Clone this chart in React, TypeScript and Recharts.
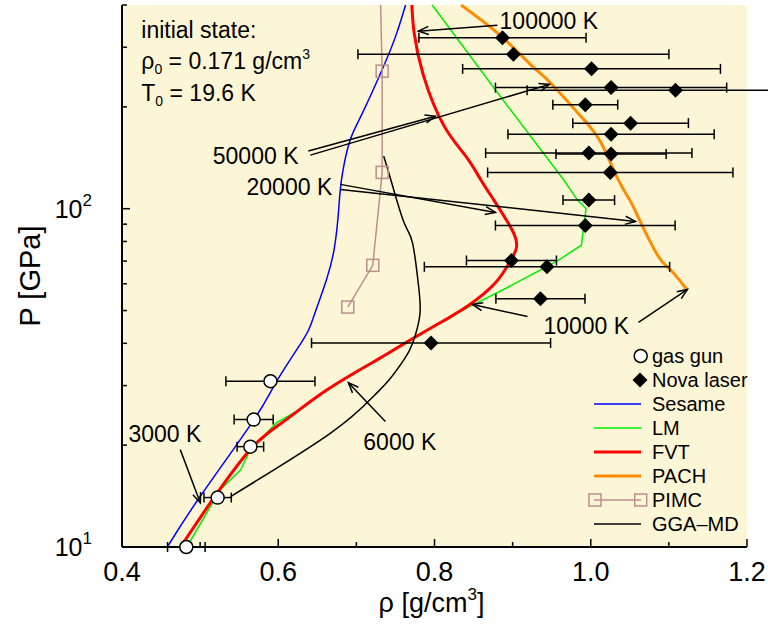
import React from 'react'
import {
  ComposedChart, Line, Scatter, XAxis, YAxis, ErrorBar, ReferenceLine,
  ReferenceDot, CartesianGrid, Legend, Label,
} from 'recharts'

const FONT = '"Liberation Sans", Arial, Helvetica, sans-serif'
const BG = '#fdf6d6'

// axis ticks
const xTicks = [0.4, 0.5, 0.6, 0.7, 0.8, 0.9, 1.0, 1.1, 1.2]
const yTicks = [10, 20, 30, 40, 50, 60, 70, 80, 90, 100, 200, 300, 400]

// model curves, rho [g/cm3] vs P [GPa]
const sesame = [
  { rho: 0.458, P: 10 }, { rho: 0.500, P: 14.1 }, { rho: 0.569, P: 23.8 }, { rho: 0.598, P: 30.9 },
  { rho: 0.632, P: 41 }, { rho: 0.644, P: 47 }, { rho: 0.662, P: 62 }, { rho: 0.672, P: 77 },
  { rho: 0.677, P: 97 }, { rho: 0.681, P: 122 }, { rho: 0.691, P: 157 }, { rho: 0.706, P: 188 },
  { rho: 0.735, P: 264 }, { rho: 0.752, P: 332 }, { rho: 0.763, P: 400 },
]
const lm = [
  { rho: 0.483, P: 10 }, { rho: 0.526, P: 14.8 }, { rho: 0.552, P: 16.9 }, { rho: 0.564, P: 19.4 },
  { rho: 0.598, P: 23.3 }, { rho: 0.624, P: 25.2 }, { rho: 0.663, P: 29.2 }, { rho: 0.727, P: 35.8 },
  { rho: 0.760, P: 40 }, { rho: 0.799, P: 45 }, { rho: 0.846, P: 51.5 }, { rho: 0.884, P: 57 },
  { rho: 0.957, P: 70 }, { rho: 0.988, P: 78 }, { rho: 0.994, P: 100 }, { rho: 0.983, P: 106 },
  { rho: 0.965, P: 122 }, { rho: 0.884, P: 215 }, { rho: 0.797, P: 400 },
]
const fvt = [
  { rho: 0.475, P: 10 }, { rho: 0.513, P: 13.5 }, { rho: 0.564, P: 19.4 }, { rho: 0.607, P: 23.5 },
  { rho: 0.663, P: 29.2 }, { rho: 0.727, P: 35.8 }, { rho: 0.762, P: 40 }, { rho: 0.800, P: 45 },
  { rho: 0.842, P: 51.5 }, { rho: 0.878, P: 60.4 }, { rho: 0.897, P: 70 }, { rho: 0.905, P: 77 },
  { rho: 0.901, P: 85 }, { rho: 0.889, P: 95 }, { rho: 0.876, P: 106 }, { rho: 0.859, P: 122 },
  { rho: 0.840, P: 143 }, { rho: 0.812, P: 176 }, { rho: 0.786, P: 247 }, { rho: 0.774, P: 330 },
  { rho: 0.771, P: 400 },
]
const pach = [
  { rho: 1.123, P: 57.7 }, { rho: 1.102, P: 66 }, { rho: 1.087, P: 72 }, { rho: 1.064, P: 91 },
  { rho: 1.050, P: 106 }, { rho: 1.035, P: 122 }, { rho: 1.013, P: 157 }, { rho: 0.987, P: 188 },
  { rho: 0.948, P: 236 }, { rho: 0.925, P: 264 }, { rho: 0.885, P: 324 }, { rho: 0.834, P: 400 },
]
const pimc = [
  { rho: 0.689, P: 51.2 }, { rho: 0.721, P: 68 }, { rho: 0.733, P: 128 }, { rho: 0.733, P: 255 },
  { rho: 0.731, P: 400 },
]
const ggaMd = [
  { rho: 0.539, P: 14.1 }, { rho: 0.667, P: 21.7 }, { rho: 0.722, P: 27.9 }, { rho: 0.742, P: 31.2 },
  { rho: 0.761, P: 35.8 }, { rho: 0.772, P: 40 }, { rho: 0.781, P: 48 }, { rho: 0.780, P: 58 },
  { rho: 0.772, P: 79 }, { rho: 0.761, P: 91 }, { rho: 0.744, P: 122 }, { rho: 0.735, P: 143 },
]

// experiments, err = half width in rho
const gasGun = [
  { rho: 0.590, P: 30.9, err: 0.057 }, { rho: 0.5685, P: 23.8, err: 0.025 },
  { rho: 0.5643, P: 19.8, err: 0.017 }, { rho: 0.5224, P: 14.0, err: 0.0175 },
  { rho: 0.4823, P: 10.0, err: 0.024 },
]
const nova = [
  { rho: 0.887, P: 320, err: 0.107 }, { rho: 0.901, P: 286, err: 0.199 },
  { rho: 1.001, P: 259, err: 0.165 }, { rho: 1.026, P: 228, err: 0.148 },
  { rho: 1.1085, P: 224, err: 0.19 }, { rho: 0.993, P: 203, err: 0.0415 },
  { rho: 1.051, P: 179, err: 0.074 }, { rho: 1.026, P: 166, err: 0.132 },
  { rho: 0.9975, P: 146, err: 0.132 }, { rho: 1.026, P: 145, err: 0.0705 },
  { rho: 1.025, P: 128, err: 0.157 }, { rho: 0.9975, P: 106, err: 0.033 },
  { rho: 0.993, P: 89.2, err: 0.115 }, { rho: 0.8985, P: 70.3, err: 0.0576 },
  { rho: 0.944, P: 67.3, err: 0.157 }, { rho: 0.9356, P: 54.2, err: 0.057 },
  { rho: 0.7956, P: 40.1, err: 0.153 },
]

// isotherm annotations
const tempLabels = [
  { text: '100000 K', rho: 0.8833, P: 339, anchor: 'start' },
  { text: '50000 K', rho: 0.6259, P: 135.2, anchor: 'end' },
  { text: '20000 K', rho: 0.6691, P: 109.5, anchor: 'end' },
  { text: '10000 K', rho: 0.9394, P: 42.5, anchor: 'start' },
  { text: '6000 K', rho: 0.7089, P: 19.4, anchor: 'start' },
  { text: '3000 K', rho: 0.4082, P: 20.4, anchor: 'start' },
]
const arrows = [
  { x1: 0.8805, y1: 348.6, x2: 0.7794, y2: 334.7 },
  { x1: 0.6385, y1: 148, x2: 0.8011, y2: 187.5 },
  { x1: 0.6411, y1: 144, x2: 0.9471, y2: 233 },
  { x1: 0.6795, y1: 118, x2: 0.878, y2: 97.5 },
  { x1: 0.6795, y1: 114, x2: 1.0572, y2: 91.7 },
  { x1: 0.919, y1: 48, x2: 0.8485, y2: 52.1 },
  { x1: 1.0611, y1: 46.1, x2: 1.1238, y2: 57.7 },
  { x1: 0.7371, y1: 23.5, x2: 0.6898, y2: 30.6 },
  { x1: 0.4746, y1: 19.4, x2: 0.5003, y2: 13.5 },
]
// initial state text: [main, sub, rest, sup]
const initText = [
  ['initial state:', '', '', ''],
  ['\u03c1', '0', ' = 0.171 g/cm', '3'],
  ['T', '0', ' = 19.6 K', ''],
]
const initPos = [
  { rho: 0.4247, P: 319 },
  { rho: 0.4247, P: 258.3 },
  { rho: 0.4247, P: 207.7 },
]

const legendItems = ['gas gun', 'Nova laser', 'Sesame', 'LM', 'FVT', 'PACH', 'PIMC', 'GGA\u2013MD']

const isMajorX = (v: number) => Math.round(v * 10) % 2 === 0
const isMajorY = (v: number) => v === 10 || v === 100

function BottomTick({ x, y, payload }: any) {
  const v = payload.value
  const major = isMajorX(v)
  return (
    <g>
      <line x1={x} x2={x} y1={y} y2={y - (major ? 8 : 5)} stroke="#000" strokeWidth={1.5} />
      {major && (
        <text x={x} y={y + 34} textAnchor="middle" fontSize={27} fontFamily={FONT} fill="#000">
          {v.toFixed(1)}
        </text>
      )}
    </g>
  )
}
function TopTick({ x, y, payload }: any) {
  const len = isMajorX(payload.value) ? 8 : 5
  return <line x1={x} x2={x} y1={y} y2={y + len} stroke="#000" strokeWidth={1.5} />
}
function LeftTick({ x, y, payload }: any) {
  const v = payload.value
  const major = isMajorY(v)
  return (
    <g>
      <line x1={x} x2={x + (major ? 8 : 5)} y1={y} y2={y} stroke="#000" strokeWidth={1.5} />
      {major && (
        <text x={x - 30} y={y + 9} textAnchor="end" fontSize={25} fontFamily={FONT} fill="#000">
          10<tspan fontSize={17} dy={-12}>{Math.round(Math.log10(v))}</tspan>
        </text>
      )}
    </g>
  )
}
function RightTick({ x, y, payload }: any) {
  const len = isMajorY(payload.value) ? 8 : 5
  return <line x1={x} x2={x - len} y1={y} y2={y} stroke="#000" strokeWidth={1.5} />
}

function XTitle(props: any) {
  const { x, y, width } = props.viewBox
  return (
    <text x={x + width / 2 - 3} y={y + 65} textAnchor="middle" fontSize={27} fontFamily={FONT} fill="#000">
      {'\u03c1 [g/cm'}<tspan fontSize={17} dy={-12}>3</tspan><tspan dy={12}>]</tspan>
    </text>
  )
}
function YTitle(props: any) {
  const { x, y, height } = props.viewBox
  const cx = x + 40
  const cy = y + height / 2
  return (
    <text x={cx} y={cy} transform={`rotate(-90 ${cx} ${cy})`} textAnchor="middle" fontSize={29} fontFamily={FONT} fill="#000">
      P [GPa]
    </text>
  )
}

function ArrowShape({ x1, y1, x2, y2 }: any) {
  const a = Math.atan2(y2 - y1, x2 - x1)
  const L = 11, w = 0.38
  const h1 = `${x2 - L * Math.cos(a - w)},${y2 - L * Math.sin(a - w)}`
  const h2 = `${x2 - L * Math.cos(a + w)},${y2 - L * Math.sin(a + w)}`
  return (
    <g>
      <line x1={x1} y1={y1} x2={x2} y2={y2} stroke="#000" strokeWidth={1.5} />
      <polyline points={`${h1} ${x2},${y2} ${h2}`} fill="none" stroke="#000" strokeWidth={1.5} />
    </g>
  )
}

const Circle = ({ cx, cy }: any) => (
  <circle cx={cx} cy={cy} r={6.5} fill="#fff" stroke="#000" strokeWidth={1.5} />
)
const Diamond = ({ cx, cy }: any) => (
  <path d={`M${cx},${cy - 7.5}L${cx + 7.5},${cy}L${cx},${cy + 7.5}L${cx - 7.5},${cy}Z`} fill="#000" />
)
const PimcDot = (p: any) =>
  p.payload.P >= 400 ? <g key={p.index} /> : (
    <rect key={p.index} x={p.cx - 6} y={p.cy - 6} width={12} height={12} fill="none" stroke="#bc8f8f" strokeWidth={1.5} />
  )

function LegendBox() {
  const sym = (name: string) => {
    switch (name) {
      case 'gas gun': return <circle cx={56.7} cy={12} r={6.5} fill="#fff" stroke="#000" strokeWidth={1.5} />
      case 'Nova laser': return <path d="M56,4.5L63.5,12L56,19.5L48.5,12Z" fill="#000" />
      case 'Sesame': return <line x1={10} x2={57} y1={12} y2={12} stroke="#0000ff" strokeWidth={1.5} />
      case 'LM': return <line x1={10} x2={57} y1={12} y2={12} stroke="#00ee00" strokeWidth={1.5} />
      case 'FVT': return <line x1={10} x2={57} y1={12} y2={12} stroke="#ff0000" strokeWidth={3} />
      case 'PACH': return <line x1={10} x2={57} y1={12} y2={12} stroke="#ff8c00" strokeWidth={3} />
      case 'PIMC': return (
        <g stroke="#bc8f8f" strokeWidth={1.5} fill="none">
          <line x1={10} x2={57} y1={12} y2={12} />
          <rect x={5} y={6} width={12} height={12} />
          <rect x={50.7} y={6} width={12} height={12} />
        </g>
      )
      default: return <line x1={10} x2={57} y1={12} y2={12} stroke="#000" strokeWidth={1.5} />
    }
  }
  return (
    <div style={{ fontFamily: FONT, fontSize: 20, lineHeight: '24px', color: '#000' }}>
      {legendItems.map((n) => (
        <div key={n} style={{ display: 'flex', alignItems: 'center', height: 24 }}>
          <svg width={68} height={24} style={{ overflow: 'visible' }}>{sym(n)}</svg>
          <span>{n}</span>
        </div>
      ))}
    </div>
  )
}

export default function App() {
  const axisLine = { stroke: '#000', strokeWidth: 2 }
  return (
    <div style={{ position: 'absolute', left: 0, top: 0, width: 768, height: 624, background: '#fff' }}>
      <ComposedChart width={768} height={624} margin={{ top: 5, right: 21, bottom: 0, left: 0 }}>
        <CartesianGrid fill={BG} horizontal={false} vertical={false} />
        <XAxis xAxisId={0} type="number" dataKey="rho" domain={[0.4, 1.2]} ticks={xTicks} interval={0}
          height={77} tickSize={0} tickMargin={0} tickLine={false} tick={<BottomTick />} axisLine={axisLine}>
          <Label content={<XTitle />} />
        </XAxis>
        <XAxis xAxisId="t" orientation="top" type="number" dataKey="rho" domain={[0.4, 1.2]} allowDataOverflow
          ticks={xTicks} interval={0} height={0} tickSize={0} tickMargin={0} tickLine={false} tick={<TopTick />}
          axisLine={axisLine} />
        <YAxis yAxisId={0} type="number" dataKey="P" scale="log" domain={[10, 400]} ticks={yTicks} interval={0}
          width={122} tickSize={0} tickMargin={0} tickLine={false} tick={<LeftTick />} axisLine={axisLine}>
          <Label content={<YTitle />} />
        </YAxis>
        <YAxis yAxisId="r" orientation="right" type="number" dataKey="P" scale="log" domain={[10, 400]}
          allowDataOverflow ticks={yTicks} interval={0} width={0} tickSize={0} tickMargin={0} tickLine={false}
          tick={<RightTick />} axisLine={axisLine} />

        <Line data={sesame} dataKey="P" type="natural" stroke="#0000ff" strokeWidth={1.5} dot={false} isAnimationActive={false} />
        <Line data={lm} dataKey="P" stroke="#00ee00" strokeWidth={1.5} dot={false} isAnimationActive={false} />
        <Line data={fvt} dataKey="P" type="natural" stroke="#ff0000" strokeWidth={3} dot={false} isAnimationActive={false} />
        <Line data={pach} dataKey="P" type="natural" stroke="#ff8c00" strokeWidth={3} dot={false} isAnimationActive={false} />
        <Line data={pimc} dataKey="P" stroke="#bc8f8f" strokeWidth={1.5} dot={PimcDot} isAnimationActive={false} />
        <Line data={ggaMd} dataKey="P" type="natural" stroke="#000" strokeWidth={1.5} dot={false} isAnimationActive={false} />

        <Scatter data={nova} dataKey="P" xAxisId="t" yAxisId="r" shape={<Diamond />} isAnimationActive={false}>
          <ErrorBar dataKey="err" direction="x" width={5} stroke="#000" strokeWidth={1.5} isAnimationActive={false} />
        </Scatter>
        <Scatter data={gasGun} dataKey="P" shape={<Circle />} isAnimationActive={false}>
          <ErrorBar dataKey="err" direction="x" width={5} stroke="#000" strokeWidth={1.5} isAnimationActive={false} />
        </Scatter>

        {arrows.map((a, i) => (
          <ReferenceLine key={'a' + i} segment={[{ x: a.x1, y: a.y1 }, { x: a.x2, y: a.y2 }]}
            ifOverflow="visible" shape={(p: any) => <ArrowShape {...p} />} />
        ))}
        {tempLabels.map((t, i) => (
          <ReferenceDot key={'t' + i} x={t.rho} y={t.P} r={0} ifOverflow="visible"
            shape={(p: any) => (
              <text x={p.cx} y={p.cy} textAnchor={t.anchor} fontSize={23} fontFamily={FONT} fill="#000">{t.text}</text>
            )} />
        ))}
        {initText.map((row, i) => (
          <ReferenceDot key={'i' + i} x={initPos[i].rho} y={initPos[i].P} r={0} ifOverflow="visible"
            shape={(p: any) => (
              <text x={p.cx} y={p.cy} fontSize={23} fontFamily={FONT} fill="#000">
                {row[0]}
                {row[1] && <tspan fontSize={14} dy={5}>{row[1]}</tspan>}
                {row[2] && <tspan dy={row[1] ? -5 : 0}>{row[2]}</tspan>}
                {row[3] && <tspan fontSize={14} dy={-10}>{row[3]}</tspan>}
              </text>
            )} />
        ))}
        <Legend layout="vertical" align="center" verticalAlign="middle" content={<LegendBox />}
          wrapperStyle={{ left: 584, top: 344, width: 180 }} />
      </ComposedChart>
    </div>
  )
}
